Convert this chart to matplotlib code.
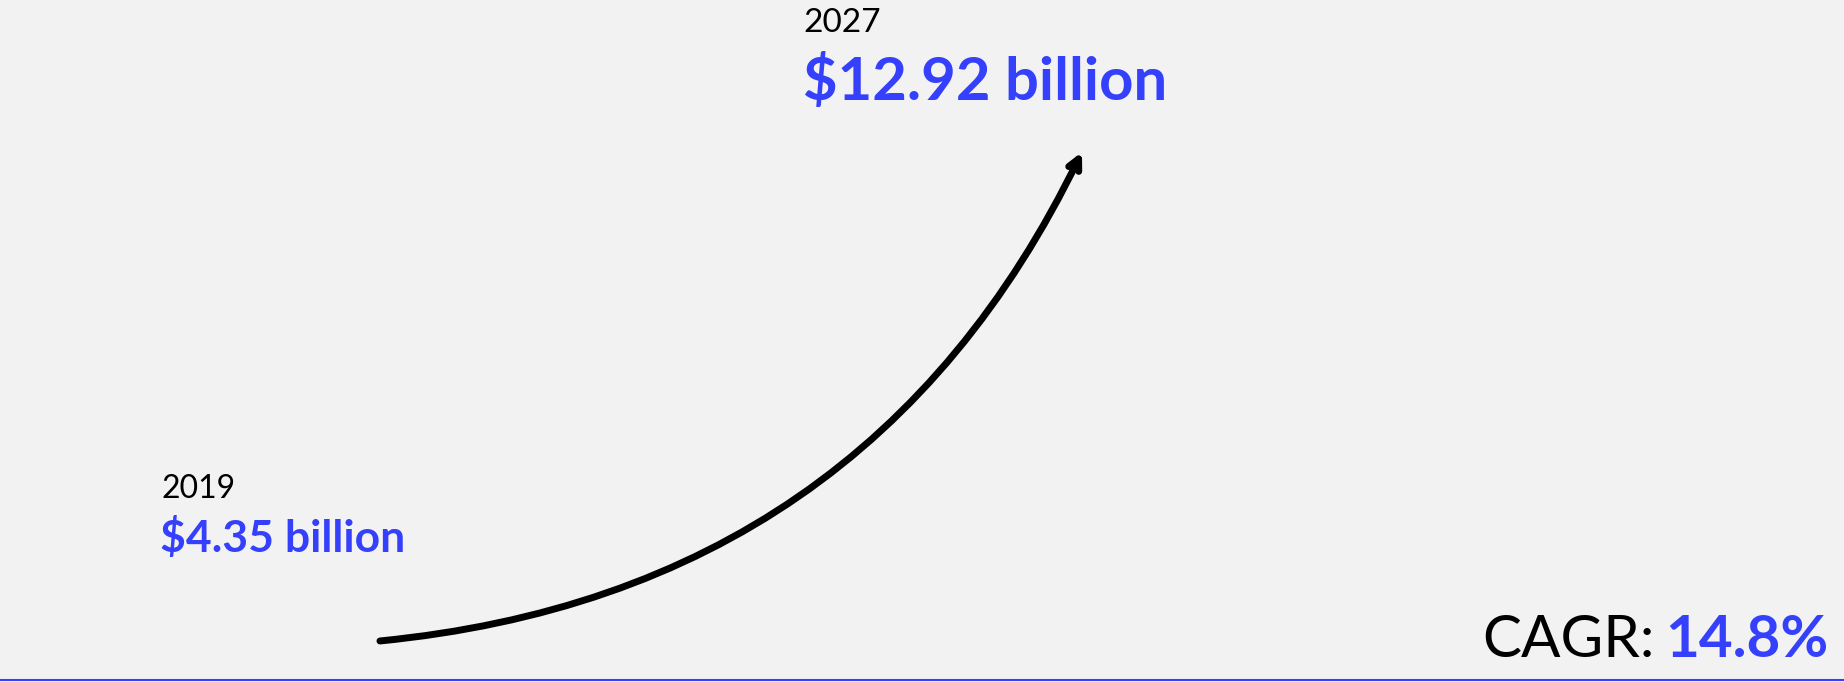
import matplotlib.pyplot as plt
from matplotlib.lines import Line2D

years = [2019, 2027]
values = [4.35, 12.92]
value_labels = ["$4.35 billion", "$12.92 billion"]
cagr_label = "14.8%"

blue = "#3440fb"
bg = "#f2f2f2"
W, H = 1844, 682

plt.rcParams['font.family'] = ['Lato', 'DejaVu Sans']

fig = plt.figure(figsize=(W / 100, H / 100), dpi=100, facecolor=bg)
ax = fig.add_axes([0, 0, 1, 1], facecolor=bg)
ax.set_xlim(2014.670, 2035.684)
ax.set_ylim(3.631, 15.584)
ax.axis("off")

# growth arrow from first to last value
ax.annotate("", xy=(years[1], values[1]), xytext=(years[0], values[0]),
            arrowprops=dict(arrowstyle="->,head_length=0.8,head_width=0.4",
                            lw=5, color="black",
                            connectionstyle="arc3,rad=0.28",
                            shrinkA=0, shrinkB=0))


def px(x, y_top):
    return x / W, 1 - y_top / H


# 2019 labels
fig.text(*px(161, 498), str(years[0]), fontsize=23, color="black", va="baseline")
fig.text(*px(160, 552), value_labels[0], fontsize=32, color=blue,
         fontweight="bold", va="baseline")

# 2027 labels
fig.text(*px(803, 32), str(years[1]), fontsize=24, color="black", va="baseline")
fig.text(*px(803, 100), value_labels[1], fontsize=43, color=blue,
         fontweight="bold", va="baseline")

# CAGR
t = fig.text(*px(1828, 657), cagr_label, fontsize=42, color=blue,
             fontweight="bold", va="baseline", ha="right")
fig.canvas.draw()
bb = t.get_window_extent()
fig.text((bb.x0 - 10) / W, 1 - 657 / H, "CAGR:", fontsize=42, color="black",
         va="baseline", ha="right")

# bottom rule
fig.add_artist(Line2D([0, 1], [1 - 680 / H, 1 - 680 / H], color=blue, lw=1.5,
                      transform=fig.transFigure))

fig.savefig("out.png", dpi=100, facecolor=bg)
